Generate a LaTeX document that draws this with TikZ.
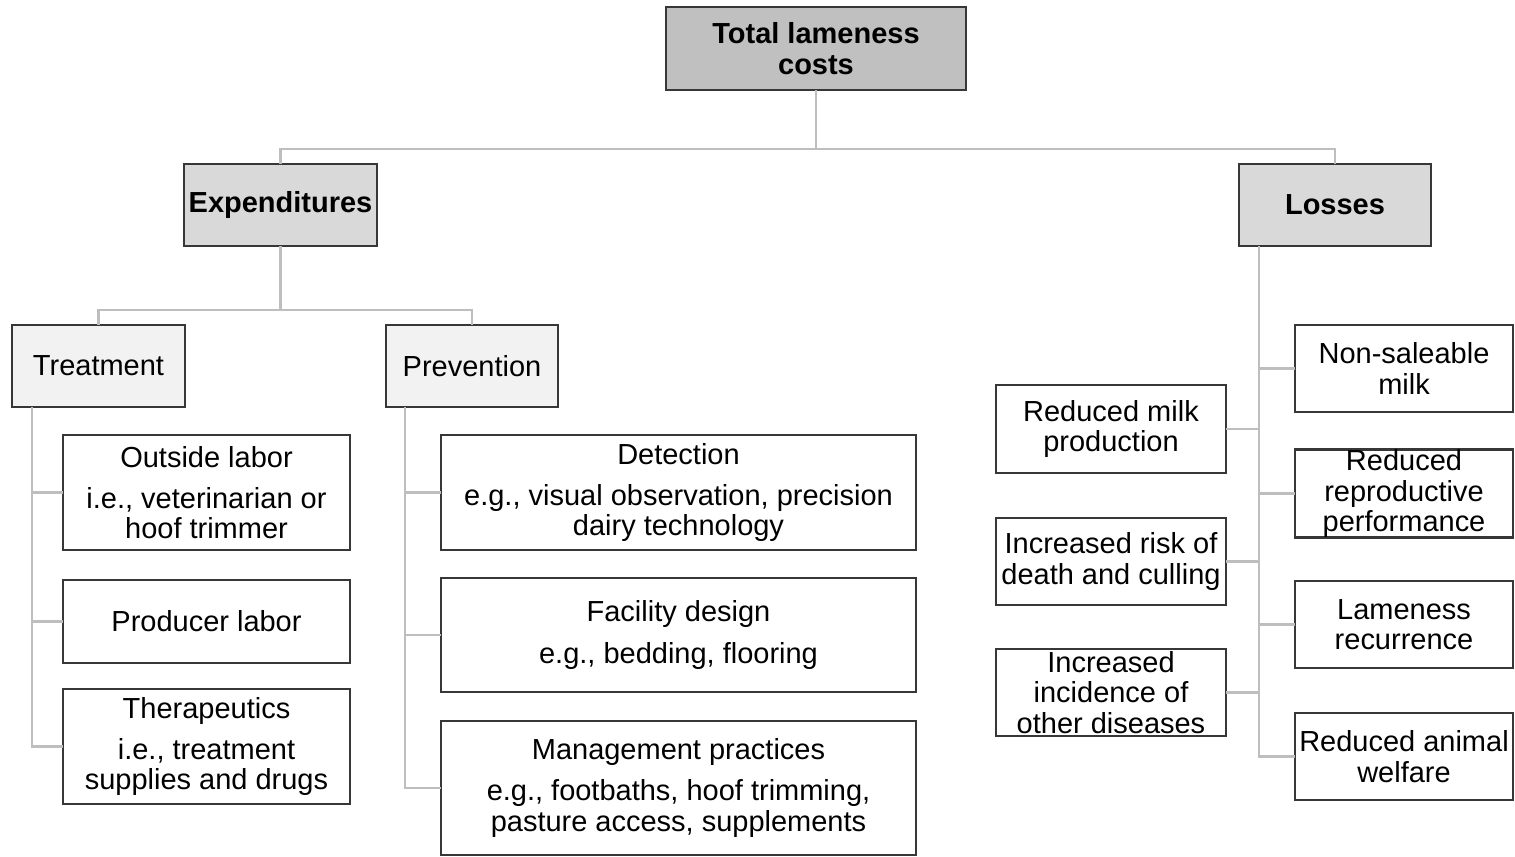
\documentclass[tikz,border=0pt]{standalone}
\usepackage{fontspec}
\setmainfont{Liberation Sans}
\usepackage{xcolor}
\usepackage{tikz}
\usetikzlibrary{calc}
\definecolor{boxline}{RGB}{55,55,55}
\definecolor{linkgray}{RGB}{190,190,190}
\definecolor{topfill}{RGB}{192,192,192}
\definecolor{midfill}{RGB}{217,217,217}
\definecolor{lowfill}{RGB}{242,242,242}
\newcommand{\costfont}{\fontsize{16.5}{17.4}\selectfont}

\begin{document}
\begin{tikzpicture}[
      x=0.02cm, y=-0.02cm,
      box/.style={draw=boxline, line width=1.5pt, fill=white, align=center,
                  inner sep=0pt, outer sep=0pt, font=\costfont},
      topbox/.style={box, fill=topfill, font=\costfont\bfseries},
      midbox/.style={box, fill=midfill, font=\costfont\bfseries},
      lowbox/.style={box, fill=lowfill},
      link/.style={draw=linkgray, line width=1.3pt}
    ]
      \useasboundingbox (0,0) rectangle (1515,856);

      % --- top of the tree ---
      \node[topbox, minimum width=6cm, minimum height=1.66cm]    (total)   at (816,48.5) {Total lameness\\costs};
      \node[midbox, minimum width=3.86cm, minimum height=1.64cm] (expend)  at (280.5,205) {Expenditures};
      \node[midbox, minimum width=3.84cm, minimum height=1.64cm] (losses)  at (1335,205) {Losses};

      % --- expenditures branch ---
      \node[lowbox, minimum width=3.46cm, minimum height=1.64cm] (treat)   at (98.5,366) {Treatment};
      \node[lowbox, minimum width=3.44cm, minimum height=1.64cm] (prevent) at (472,366) {Prevention};

      \node[box, minimum width=5.74cm, minimum height=2.3cm]  (outside)  at (206.5,492.5) {Outside labor\\[6pt]i.e., veterinarian or\\hoof trimmer};
      \node[box, minimum width=5.74cm, minimum height=1.66cm] (producer) at (206.5,621.5) {Producer labor};
      \node[box, minimum width=5.74cm, minimum height=2.3cm]  (thera)    at (206.5,746.5) {Therapeutics\\[6pt]i.e., treatment\\supplies and drugs};

      \node[box, minimum width=9.5cm, minimum height=2.3cm]   (detect)   at (678.5,492.5) {Detection\\[6pt]e.g., visual observation, precision\\dairy technology};
      \node[box, minimum width=9.5cm, minimum height=2.28cm]  (facility) at (678.5,635) {Facility design\\[6pt]e.g., bedding, flooring};
      \node[box, minimum width=9.5cm, minimum height=2.68cm]  (manage)   at (678.5,788) {Management practices\\[6pt]e.g., footbaths, hoof trimming,\\pasture access, supplements};

      % --- losses branch ---
      \node[box, minimum width=4.6cm, minimum height=1.76cm]  (milk)     at (1111,429) {Reduced milk\\production};
      \node[box, minimum width=4.6cm, minimum height=1.74cm]  (death)    at (1111,561.5) {Increased risk of\\death and culling};
      \node[box, minimum width=4.6cm, minimum height=1.74cm]  (disease)  at (1111,692.5) {Increased\\incidence of\\other diseases};

      \node[box, minimum width=4.36cm, minimum height=1.74cm] (saleable) at (1404,368.5) {Non-saleable\\milk};
      \node[box, minimum width=4.36cm, minimum height=1.74cm] (repro)    at (1404,493.5) {Reduced\\reproductive\\performance};
      \node[box, minimum width=4.36cm, minimum height=1.74cm] (recur)    at (1404,624.5) {Lameness\\recurrence};
      \node[box, minimum width=4.36cm, minimum height=1.74cm] (welfare)  at (1404,756.5) {Reduced animal\\welfare};

      % --- connectors ---
      \coordinate (topbar) at (816,149);
      \draw[link] (total.south) -- (topbar);
      \draw[link] (expend.north) |- (topbar) -| (losses.north);

      \coordinate (expbar) at (280.5,310);
      \draw[link] (expend.south) -- (expbar);
      \draw[link] (treat.north) |- (expbar) -| (prevent.north);

      \coordinate (tspine) at (32,407);
      \draw[link] (tspine) |- (thera.west);
      \draw[link] (outside.west)  -- (outside.west -| tspine);
      \draw[link] (producer.west) -- (producer.west -| tspine);

      \coordinate (pspine) at (405,407);
      \draw[link] (pspine) |- (manage.west);
      \draw[link] (detect.west)   -- (detect.west -| pspine);
      \draw[link] (facility.west) -- (facility.west -| pspine);

      \coordinate (lspine) at (1259,246);
      \draw[link] (lspine) |- (welfare.west);
      \draw[link] (saleable.west) -- (saleable.west -| lspine);
      \draw[link] (repro.west)    -- (repro.west -| lspine);
      \draw[link] (recur.west)    -- (recur.west -| lspine);
      \draw[link] (milk.east)     -- (milk.east -| lspine);
      \draw[link] (death.east)    -- (death.east -| lspine);
      \draw[link] (disease.east)  -- (disease.east -| lspine);
    \end{tikzpicture}
\end{document}
